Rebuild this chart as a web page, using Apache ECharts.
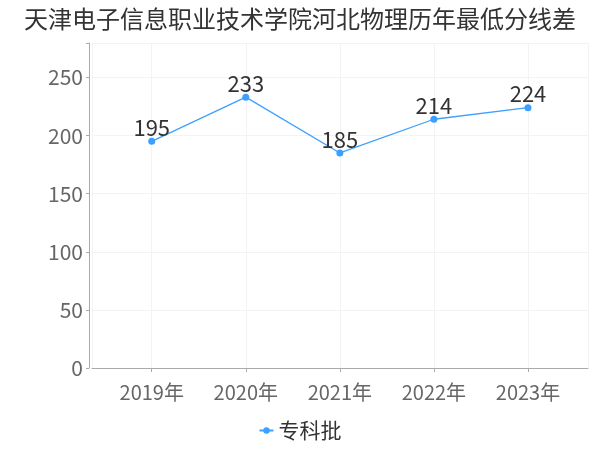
<!DOCTYPE html>
<html>
<head>
<meta charset="utf-8">
<script src="https://cdn.jsdelivr.net/npm/echarts@6/dist/echarts.min.js"></script>
<style>html,body{margin:0;padding:0;background:#fff;}#c{width:600px;height:450px;}</style>
</head>
<body>
<div id="c"></div>
<script>
var titleText = '天津电子信息职业技术学院河北物理历年最低分线差';
var years = [2019, 2020, 2021, 2022, 2023];
var yearSuffix = '年';
var seriesName = '专科批';
var values = [195, 233, 185, 214, 224];
var yTicks = [0, 50, 100, 150, 200, 250];

var FONT = '"Noto Sans CJK SC", "Noto Sans", sans-serif';
var chart = echarts.init(document.getElementById('c'), null, {renderer: 'canvas'});
chart.setOption({
  animation: false,
  backgroundColor: '#fff',
  title: {
    text: titleText,
    left: 'center',
    top: 2,
    textStyle: {fontFamily: FONT, fontSize: 24, fontWeight: 'normal', color: '#333'}
  },
  legend: {
    bottom: 4,
    left: 'center',
    itemWidth: 14,
    itemHeight: 8,
    itemGap: 10,
    textStyle: {fontFamily: FONT, fontSize: 21, color: '#333'},
    data: [seriesName]
  },
  grid: {left: 92, right: 12, top: 43, bottom: 82, containLabel: false},
  xAxis: {
    type: 'value',
    min: 2018.365,
    max: 2023.638,
    offset: 4,
    axisLine: {show: true, lineStyle: {color: '#aaa'}},
    axisTick: {show: true, length: 4, lineStyle: {color: '#aaa'}},
    axisLabel: {
      fontFamily: FONT, fontSize: 20, color: '#666', margin: 10,
      showMinLabel: false, showMaxLabel: false,
      formatter: function (v) {
        return years.indexOf(v) >= 0 ? v + yearSuffix : '';
      }
    },
    splitLine: {show: true, lineStyle: {color: '#f3f3f3'}}
  },
  yAxis: {
    type: 'value',
    min: 0,
    max: 279.6,
    offset: 3,
    axisLine: {show: true, lineStyle: {color: '#aaa'}},
    axisTick: {show: true, length: 3, lineStyle: {color: '#aaa'}},
    axisLabel: {
      fontFamily: FONT, fontSize: 21, color: '#666', margin: 6,
      formatter: function (v) {
        return yTicks.indexOf(v) >= 0 ? String(v) : '';
      }
    },
    splitLine: {show: true, lineStyle: {color: '#f3f3f3'}}
  },
  series: [{
    name: seriesName,
    type: 'line',
    data: years.map(function (y, i) { return [y, values[i]]; }),
    symbol: 'circle',
    symbolSize: 7,
    itemStyle: {color: '#3ca0ff'},
    lineStyle: {color: '#3ca0ff', width: 1.3},
    label: {
      show: true,
      position: 'top',
      distance: -1,
      fontFamily: FONT,
      fontSize: 22,
      color: '#333',
      formatter: function (p) { return p.value[1]; }
    }
  }]
});
</script>
</body>
</html>
